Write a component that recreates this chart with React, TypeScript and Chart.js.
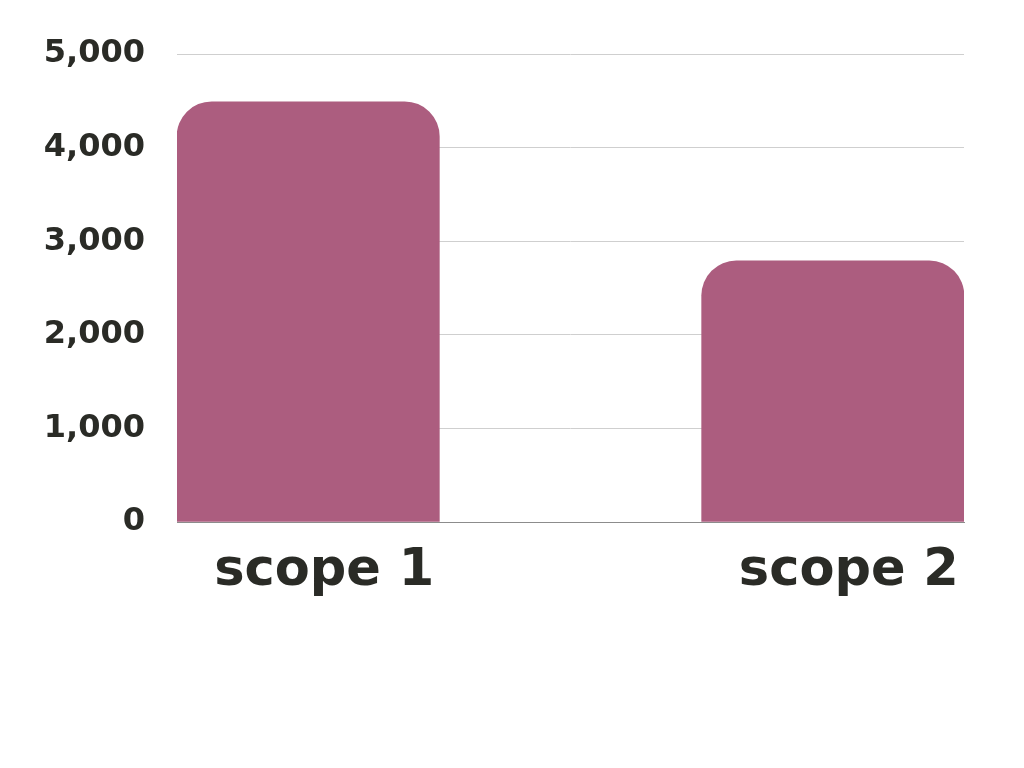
import React, { useEffect, useRef } from "react";
import { Chart, registerables } from "chart.js";

Chart.register(...registerables);

const categories = ["scope 1", "", "scope 2"];
const values = [4490, null, 2790];
const yTicks = [0, 1000, 2000, 3000, 4000, 5000];

const BAR_COLOR = "#ac5d7f";
const TEXT_COLOR = "#2a2b26";

export default function App() {
  const ref = useRef<HTMLCanvasElement | null>(null);

  useEffect(() => {
    if (!ref.current) return;
    const chart = new Chart(ref.current, {
      type: "bar",
      data: {
        labels: categories,
        datasets: [
          {
            data: values as any,
            backgroundColor: BAR_COLOR,
            borderWidth: 0,
            borderRadius: { topLeft: 35, topRight: 35, bottomLeft: 0, bottomRight: 0 },
            borderSkipped: false,
            barPercentage: 1,
            categoryPercentage: 1,
          },
        ],
      },
      options: {
        animation: false,
        responsive: true,
        maintainAspectRatio: false,
        layout: { padding: { top: 54, right: 60, left: 0, bottom: 0 } },
        plugins: { legend: { display: false }, tooltip: { enabled: false } },
        scales: {
          x: {
            grid: { display: false },
            border: { display: true, color: "#8c8c8c", width: 1 },
            ticks: {
              color: TEXT_COLOR,
              font: { family: "DejaVu Sans", weight: "bold", size: 51 },
              padding: 11,
              labelOffset: 16,
              maxRotation: 0,
              autoSkip: false,
            },
            afterFit: (s: any) => {
              s.height = 768 - 522;
            },
          },
          y: {
            min: 0,
            max: 5000,
            afterBuildTicks: (s: any) => {
              s.ticks = yTicks.map((v) => ({ value: v }));
            },
            grid: {
              color: (ctx: any) => (ctx.tick && ctx.tick.value === 0 ? "rgba(0,0,0,0)" : "#cfcfcf"),
              lineWidth: 1,
              drawTicks: false,
            },
            border: { display: false },
            ticks: {
              color: TEXT_COLOR,
              font: { family: "DejaVu Sans", weight: "bold", size: 32 },
              padding: 32,
              callback: (v: any) => Number(v).toLocaleString("en-US"),
            },
            afterFit: (s: any) => {
              s.width = 177;
            },
          },
        },
      },
    });
    return () => chart.destroy();
  }, []);

  return (
    <div style={{ position: "absolute", left: 0, top: 0, width: 1024, height: 768, background: "#fff" }}>
      <canvas ref={ref} />
    </div>
  );
}
